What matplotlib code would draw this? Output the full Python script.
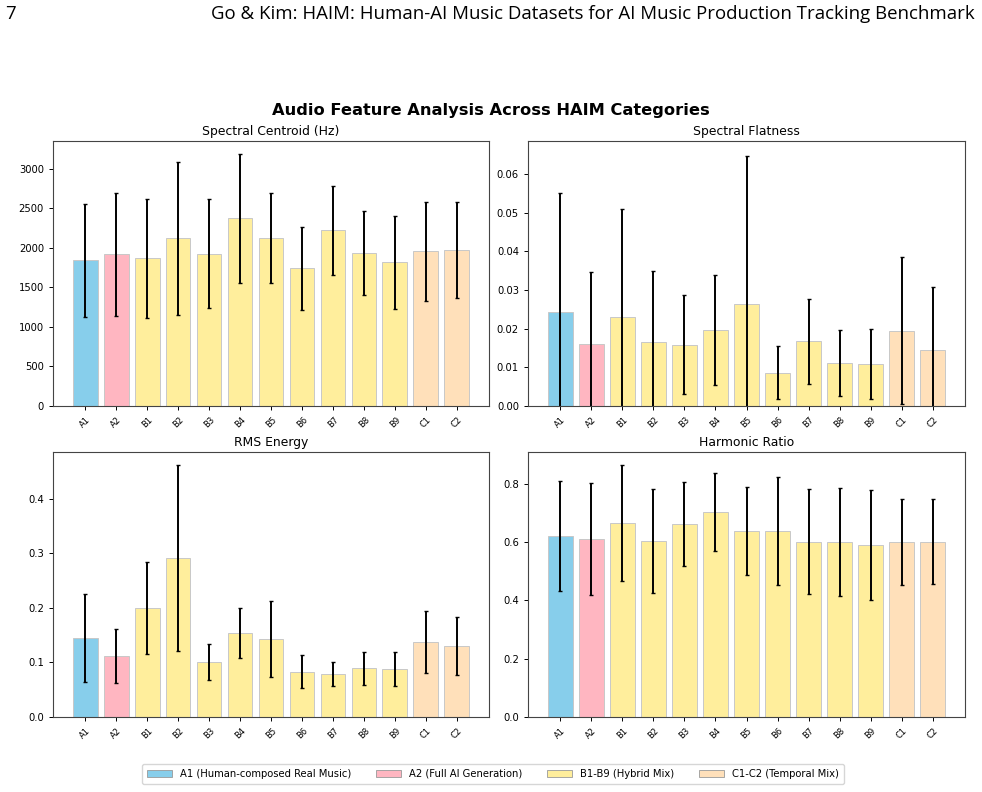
import matplotlib
matplotlib.use("Agg")
import matplotlib.pyplot as plt
from matplotlib.patches import Patch
import numpy as np

categories = ["A1", "A2", "B1", "B2", "B3", "B4", "B5", "B6", "B7", "B8", "B9", "C1", "C2"]

centroid_mean = [1842, 1918, 1867, 2121, 1927, 2374, 2121, 1741, 2222, 1935, 1817, 1956, 1969]
centroid_std = [720, 778, 748, 967, 688, 820, 570, 520, 566, 536, 587, 630, 608]

flatness_mean = [0.0242, 0.0161, 0.0229, 0.0166, 0.0158, 0.0196, 0.0265, 0.0086, 0.0167,
                 0.0112, 0.0108, 0.0195, 0.0146]
flatness_std = [0.0308, 0.0185, 0.0280, 0.0182, 0.0128, 0.0142, 0.0382, 0.0069, 0.0109,
                0.0085, 0.0091, 0.0189, 0.0161]

rms_mean = [0.145, 0.112, 0.200, 0.292, 0.101, 0.154, 0.143, 0.083, 0.078, 0.089, 0.088, 0.138, 0.130]
rms_std = [0.081, 0.050, 0.084, 0.171, 0.033, 0.046, 0.070, 0.030, 0.022, 0.030, 0.031, 0.057, 0.053]

harmonic_mean = [0.622, 0.612, 0.666, 0.604, 0.663, 0.704, 0.638, 0.638, 0.601, 0.601, 0.591, 0.601, 0.601]
harmonic_std = [0.188, 0.192, 0.200, 0.180, 0.144, 0.133, 0.151, 0.186, 0.180, 0.186, 0.189, 0.148, 0.146]

panels = [
    ("Spectral Centroid (Hz)", centroid_mean, centroid_std),
    ("Spectral Flatness", flatness_mean, flatness_std),
    ("RMS Energy", rms_mean, rms_std),
    ("Harmonic Ratio", harmonic_mean, harmonic_std),
]

group_colors = {"A1": "#87CEEB", "A2": "#FFB6C1", "B": "#FFEE9C", "C": "#FFE0BA"}
legend_labels = ["A1 (Human-composed Real Music)", "A2 (Full AI Generation)",
                 "B1-B9 (Hybrid Mix)", "C1-C2 (Temporal Mix)"]


def color_for(cat):
    if cat in ("A1", "A2"):
        return group_colors[cat]
    return group_colors[cat[0]]


colors = [color_for(c) for c in categories]

fig = plt.figure(figsize=(9.82, 7.92), dpi=100)

# page header
fig.text(5 / 982, 1 - 14 / 792, "7", fontsize=13.4, family="Open Sans", va="center", ha="left")
fig.text(975 / 982, 1 - 14 / 792,
         "Go & Kim: HAIM: Human-AI Music Datasets for AI Music Production Tracking Benchmark",
         fontsize=13.4, family="Open Sans", va="center", ha="right")

fig.suptitle("Audio Feature Analysis Across HAIM Categories", fontsize=11.7,
             fontweight="bold", y=1 - 110 / 792, va="center")

positions = [
    [53 / 982, 1 - 406 / 792, 436 / 982, 265 / 792],
    [528 / 982, 1 - 406 / 792, 437 / 982, 265 / 792],
    [53 / 982, 1 - 717 / 792, 436 / 982, 265 / 792],
    [528 / 982, 1 - 717 / 792, 437 / 982, 265 / 792],
]

x = np.arange(len(categories))
for pos, (title, mean, std) in zip(positions, panels):
    ax = fig.add_axes(pos)
    ax.bar(x, mean, width=0.8, color=colors, edgecolor="#C8C8C8", linewidth=0.7,
           yerr=std, capsize=1.5, error_kw={"elinewidth": 1.4, "ecolor": "black",
                                             "capthick": 1.0})
    ax.set_title(title, fontsize=8.9, pad=4)
    ax.set_xticks(x)
    ax.set_xticklabels(categories, rotation=45, fontsize=6)
    ax.tick_params(axis="y", labelsize=7.2, length=3, width=0.7)
    ax.tick_params(axis="x", length=3, width=0.7)
    ax.set_ylim(bottom=0)
    for s in ax.spines.values():
        s.set_linewidth(0.8)
        s.set_color("#444444")

handles = [Patch(facecolor=group_colors[k], edgecolor="#999999", linewidth=0.6)
           for k in ["A1", "A2", "B", "C"]]
fig.legend(handles, legend_labels, loc="center", ncol=4, fontsize=7.2,
           bbox_to_anchor=(493 / 982, 1 - 774 / 792), frameon=True,
           handlelength=2.5, columnspacing=2.5, borderpad=0.5)

fig.savefig("out.png", dpi=100)
